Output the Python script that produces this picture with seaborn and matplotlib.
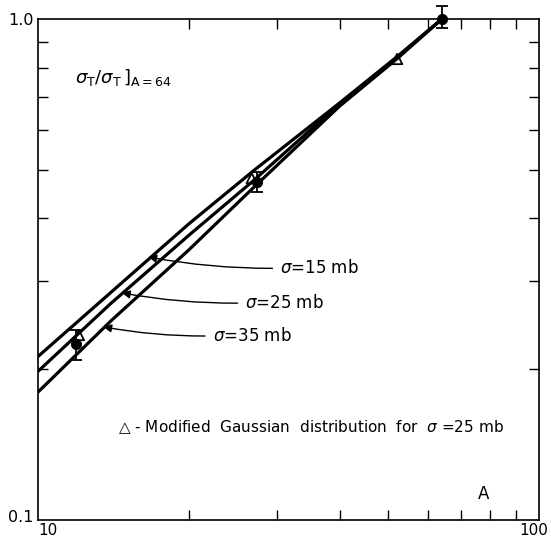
import numpy as np
import pandas as pd
import matplotlib
matplotlib.use("Agg")
import matplotlib.pyplot as plt
import matplotlib.transforms as mtransforms
import seaborn as sns

# curve values (mass number A vs sigma_T ratio)
mass_a = [10, 14, 20, 27, 40, 52, 64]
sig15 = [0.212, 0.285, 0.390, 0.499, 0.680, 0.840, 1.0]
sig25 = [0.198, 0.271, 0.370, 0.477, 0.677, 0.836, 1.0]
sig35 = [0.180, 0.250, 0.346, 0.462, 0.670, 0.832, 1.0]

# measured points with error bars
data_a = [11.9, 27.4, 64]
data_y = [0.225, 0.473, 1.0]
data_lo = [0.209, 0.451, 0.959]
data_hi = [0.239, 0.495, 1.062]

# modified gaussian (sigma = 25 mb) points
tri_a = [12.07, 26.7, 52.1]
tri_y = [0.234, 0.481, 0.832]

sns.set_style("ticks")
plt.rcParams['font.family'] = ['DejaVu Sans']
plt.rcParams['text.color'] = 'black'

fig = plt.figure(figsize=(5.51, 5.41), dpi=100)
ax = fig.add_axes([38/551, 21/541, 501/551, 501/541])

curves = pd.DataFrame({
    "A": mass_a * 3,
    "ratio": sig15 + sig25 + sig35,
    "sigma": ["15"] * len(mass_a) + ["25"] * len(mass_a) + ["35"] * len(mass_a),
})
sns.lineplot(data=curves, x="A", y="ratio", units="sigma", estimator=None,
             color="black", lw=2.3, ax=ax, legend=False)

ax.errorbar(data_a, data_y,
            yerr=[np.array(data_y) - np.array(data_lo), np.array(data_hi) - np.array(data_y)],
            fmt="none", ecolor="black", elinewidth=1.3, capsize=4, capthick=1.3,
            clip_on=False)
sns.scatterplot(x=data_a, y=data_y, color="black", s=55, marker="o",
                edgecolor="black", ax=ax, zorder=5, clip_on=False)
sns.scatterplot(x=tri_a, y=tri_y, marker="^", s=55, facecolor="none",
                edgecolor="black", linewidth=1.3, ax=ax, zorder=6)

ax.set_xscale("log")
ax.set_yscale("log")
ax.set_xlim(10, 100)
ax.set_ylim(0.1, 1.0)
ax.set_xticks([10, 100])
ax.set_xticklabels(["10", "100"])
ax.set_xticks([20, 30, 40, 50, 60, 70, 80, 90], minor=True)
ax.set_yticks([0.1, 1.0])
ax.set_yticklabels(["0.1", "1.0"])
ax.set_yticks([0.2, 0.3, 0.4, 0.5, 0.6, 0.7, 0.8, 0.9], minor=True)
ax.xaxis.set_minor_formatter(matplotlib.ticker.NullFormatter())
ax.yaxis.set_minor_formatter(matplotlib.ticker.NullFormatter())
ax.tick_params(which="both", direction="in", top=True, right=True,
               length=7, width=1.0, labelsize=11.5, colors="black")
ax.tick_params(axis="x", which="major", length=0, pad=2, labelsize=11)
ax.tick_params(axis="y", which="major", length=0, pad=3)
for s in ax.spines.values():
    s.set_linewidth(1.2)
    s.set_color("black")
ax.set_xlabel("")
ax.set_ylabel("")

# nudge the corner tick labels so they don't collide / fall off the edge
xl = ax.get_xticklabels()
xl[0].set_ha("left")
xl[1].set_transform(xl[1].get_transform() +
                    mtransforms.ScaledTranslation(-4/72, 0, fig.dpi_scale_trans))
yl = ax.get_yticklabels()
yl[0].set_transform(yl[0].get_transform() +
                    mtransforms.ScaledTranslation(0, 3/72, fig.dpi_scale_trans))

ax.text(0.074, 0.884, r"$\left.\sigma_{\rm T}/\sigma_{\rm T}\,\right]_{\rm A=64}$",
        transform=ax.transAxes, fontsize=13, ha="left", va="center")

arrow = dict(arrowstyle="-|>", color="black", lw=1.0, relpos=(0, 0.5),
             shrinkA=3, shrinkB=0, mutation_scale=12,
             connectionstyle="arc3,rad=-0.05")
ax.annotate(r"$\sigma$=15 mb", xy=(16.6, 0.335), xytext=(30.4, 0.318),
            ha="left", va="center", fontsize=12, arrowprops=arrow)
ax.annotate(r"$\sigma$=25 mb", xy=(14.7, 0.284), xytext=(25.9, 0.271),
            ha="left", va="center", fontsize=12, arrowprops=arrow)
ax.annotate(r"$\sigma$=35 mb", xy=(13.5, 0.243), xytext=(22.3, 0.233),
            ha="left", va="center", fontsize=12, arrowprops=arrow)

ax.text(0.160, 0.186, "\u25b3 - Modified  Gaussian  distribution  for  $\\sigma$ =25 mb",
        transform=ax.transAxes, fontsize=11, ha="left", va="center")
ax.text(0.878, 0.034, "A", transform=ax.transAxes, fontsize=12,
        ha="left", va="bottom")

fig.savefig("out.png", dpi=100)
